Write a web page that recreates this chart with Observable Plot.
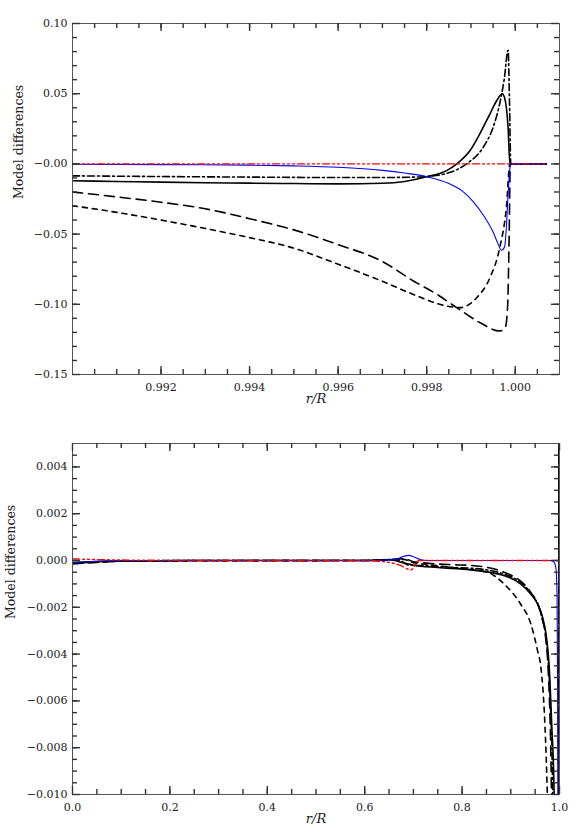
<!DOCTYPE html>
<html><head><meta charset="utf-8">
<script src="https://cdn.jsdelivr.net/npm/d3@7"></script>
<script src="https://cdn.jsdelivr.net/npm/@observablehq/plot@0.6"></script>
<style>
body{margin:0;background:#fff;}
#chart{width:581px;}
#chart svg{display:block;}
</style></head><body><div id="chart"></div>
<script>
// ---------- TOP PANEL DATA (r/R 0.990 – 1.001) ----------
const topXTicks = [0.992, 0.994, 0.996, 0.998, 1.000];
const topYTicks = [-0.15, -0.10, -0.05, 0.00, 0.05, 0.10];

const topRedR = [0.990, 1.0007];
const topRedV = [0, 0];

const topBlueR = [0.990, 0.992, 0.994, 0.995, 0.996, 0.997, 0.9975, 0.998, 0.9985, 0.9988, 0.99905, 0.9993, 0.9995, 0.9996, 0.99969, 0.99976, 0.9998, 0.99984, 0.99988, 0.9999, 1.0007];
const topBlueV = [-0.0003, -0.0005, -0.0009, -0.0014, -0.0024, -0.0046, -0.0065, -0.0091, -0.0140, -0.0192, -0.0268, -0.0375, -0.0485, -0.0560, -0.0615, -0.0590, -0.0450, -0.0210, -0.0030, 0, 0];

const topSolidR = [0.990, 0.991, 0.992, 0.993, 0.994, 0.995, 0.996, 0.997, 0.9975, 0.998, 0.99845, 0.99868, 0.99898, 0.9992, 0.99943, 0.99958, 0.99971, 0.99976, 0.9998, 0.99984, 0.99988, 1.0007];
const topSolidV = [-0.0120, -0.0125, -0.0130, -0.0134, -0.0137, -0.0140, -0.0142, -0.0138, -0.0125, -0.0092, -0.0048, 0, 0.0095, 0.0214, 0.0357, 0.0450, 0.0500, 0.0470, 0.0400, 0.0250, 0, 0];

const topDashDotR = [0.990, 0.992, 0.994, 0.996, 0.997, 0.9978, 0.998, 0.99853, 0.9989, 0.99928, 0.9995, 0.99965, 0.99975, 0.99984, 0.99987, 0.9999, 1.0007];
const topDashDotV = [-0.0085, -0.0090, -0.0094, -0.0097, -0.0097, -0.0093, -0.0090, -0.0060, 0, 0.0120, 0.0260, 0.0430, 0.0600, 0.0810, 0.0450, 0, 0];

const topLongR = [0.990, 0.991, 0.992, 0.993, 0.994, 0.995, 0.996, 0.997, 0.9977, 0.99823, 0.99868, 0.9992, 0.99965, 0.99978, 0.99983, 0.99986, 0.99989, 1.0007];
const topLongV = [-0.0200, -0.0235, -0.0273, -0.0320, -0.0390, -0.0470, -0.0575, -0.0695, -0.0834, -0.0929, -0.1024, -0.1130, -0.1190, -0.1160, -0.1000, -0.0570, 0, 0];

const topShortR = [0.990, 0.991, 0.992, 0.993, 0.994, 0.995, 0.996, 0.997, 0.9977, 0.99845, 0.99875, 0.99913, 0.99943, 0.99965, 0.9998, 0.99988, 1.0007];
const topShortV = [-0.0298, -0.0345, -0.0400, -0.0460, -0.0525, -0.0600, -0.0715, -0.0836, -0.0930, -0.1012, -0.1024, -0.0953, -0.0810, -0.0596, -0.0310, 0, 0];

// ---------- BOTTOM PANEL DATA (r/R 0 – 1) ----------
const botXTicks = [0.0, 0.2, 0.4, 0.6, 0.8, 1.0];
const botYTicks = [-0.010, -0.008, -0.006, -0.004, -0.002, 0.000, 0.002, 0.004];

const botRedR = [0.00, 0.10, 0.30, 0.60, 0.647, 0.672, 0.695, 0.711, 0.80, 0.99, 1.00];
const botRedV = [0.00007, 0.00002, 0, 0, -0.00007, -0.0002, -0.0004, 0, 0, 0, 0];

const botBlueR = [0.00, 0.05, 0.10, 0.60, 0.66, 0.68, 0.691, 0.70, 0.715, 0.73, 0.98, 0.988, 0.9925, 0.995, 0.996, 0.9968];
const botBlueV = [-0.00008, -0.00003, 0, 0, 0.00003, 0.00018, 0.00022, 0.00016, 0.00003, 0, 0, -0.00005, -0.0003, -0.0015, -0.005, -0.012];

const botSolidR = [0.00, 0.05, 0.10, 0.30, 0.60, 0.65, 0.68, 0.70, 0.75, 0.818, 0.886, 0.920, 0.941, 0.955, 0.965, 0.974, 0.979, 0.984, 0.989, 0.9975, 0.9990, 0.9996, 1.0];
const botSolidV = [-0.00010, -0.00005, -0.00002, 0, 0, 0.00003, -0.0001, -0.0002, -0.0003, -0.0004, -0.00064, -0.0010, -0.00143, -0.00186, -0.0024, -0.0034, -0.0046, -0.0070, -0.0100, -0.05, -0.1, 0.05, 0];

const botDashDotR = [0.00, 0.05, 0.10, 0.30, 0.60, 0.65, 0.67, 0.69, 0.72, 0.78, 0.818, 0.886, 0.941, 0.962, 0.974, 0.980, 0.986, 0.9975, 0.9990, 0.9996, 1.0];
const botDashDotV = [-0.00012, -0.00006, -0.00002, 0, 0, 0.00004, 0.00002, -0.0002, -0.00022, -0.0003, -0.00033, -0.00058, -0.0014, -0.0023, -0.0036, -0.0055, -0.0100, -0.05, -0.1, 0.05, 0];

const botLongR = [0.00, 0.05, 0.10, 0.30, 0.60, 0.65, 0.68, 0.70, 0.72, 0.78, 0.818, 0.886, 0.941, 0.962, 0.972, 0.9766, 0.9836, 0.9975, 0.9990, 0.9996, 1.0];
const botLongV = [-0.00015, -0.00008, -0.00003, 0, 0, 0.00004, 0.00008, -0.00005, -0.0001, -0.00018, -0.00021, -0.0005, -0.00136, -0.0023, -0.0034, -0.0046, -0.0100, -0.05, -0.1, 0.05, 0];

const botShortR = [0.00, 0.05, 0.10, 0.30, 0.60, 0.65, 0.68, 0.70, 0.72, 0.78, 0.82, 0.852, 0.886, 0.920, 0.941, 0.955, 0.962, 0.970, 0.975, 0.9975, 0.9990, 0.9996, 1.0];
const botShortV = [-0.00012, -0.00006, -0.00003, -0.00001, 0, 0.00002, 0.00005, -0.0001, -0.00015, -0.0003, -0.0004, -0.0005, -0.0010, -0.00186, -0.0027, -0.00386, -0.0046, -0.0070, -0.0100, -0.05, -0.1, 0.05, 0];

const yLabelText = "Model differences";
const xLabelText = "r/R";

// ---------- layout & styles ----------
const W = 581, H = 420, ML = 72, MR = 22, MT = 23, MB = 46;
const FW = W - ML - MR, FH = H - MT - MB;
const STYLE = {
  solid:   {stroke: "#000", strokeWidth: 1.6, strokeDasharray: null},
  dashdot: {stroke: "#000", strokeWidth: 1.6, strokeDasharray: "7,3,2,3"},
  long:    {stroke: "#000", strokeWidth: 1.6, strokeDasharray: "10,6"},
  short:   {stroke: "#000", strokeWidth: 1.6, strokeDasharray: "5,5"},
  blue:    {stroke: "#0000ff", strokeWidth: 1.1, strokeDasharray: null},
  red:     {stroke: "#ff0000", strokeWidth: 1.4, strokeDasharray: "7,3,2,3,2,3,2,3"}
};
const TICK = {stroke: "#333", strokeWidth: 1.4};
const minus = s => s.replace("-", "\u2212");

// inward ticks drawn as short rules anchored on each frame side
function xTicks(values, len) {
  return [
    Plot.ruleX(values, {x: d => d, insetTop: FH - len, ...TICK}),
    Plot.ruleX(values, {x: d => d, insetBottom: FH - len, ...TICK})
  ];
}
function yTicks(values, len) {
  return [
    Plot.ruleY(values, {y: d => d, insetRight: FW - len, ...TICK}),
    Plot.ruleY(values, {y: d => d, insetLeft: FW - len, ...TICK})
  ];
}

function panel(cfg) {
  const marks = [];
  for (const [r, v, st] of cfg.series) {
    marks.push(Plot.line(d3.zip(r, v), {x: d => d[0], y: d => d[1], curve: "monotone-x", clip: true, ...st}));
  }
  marks.push(Plot.frame({stroke: "#555", strokeWidth: 1}));
  marks.push(...xTicks(cfg.xMinor, 5));
  marks.push(...xTicks(cfg.xMajor, 8));
  marks.push(...yTicks(cfg.yMinor, 5));
  marks.push(...yTicks(cfg.yMajor, 8));
  marks.push(Plot.axisX({anchor: "bottom", ticks: cfg.xMajor, tickSize: 0, tickPadding: 9, tickFormat: cfg.xFmt, label: null, fill: "#222"}));
  marks.push(Plot.axisY({anchor: "left", ticks: cfg.yMajor, tickSize: 0, tickPadding: 5, tickFormat: cfg.yFmt, label: null, fill: "#222"}));
  marks.push(Plot.text([yLabelText], {text: d => d, frameAnchor: "left", rotate: -90, dx: cfg.yLabelDx, fontSize: 12.5, fill: "#222"}));
  marks.push(Plot.text([xLabelText], {text: d => d, frameAnchor: "bottom", dy: 28, fontSize: 13, fontStyle: "italic", fill: "#222"}));
  return Plot.plot({
    width: W, height: H,
    marginTop: MT, marginBottom: MB, marginLeft: ML, marginRight: MR,
    style: {fontFamily: "DejaVu Serif", fontSize: "11px", background: "#fff", color: "#222"},
    x: {domain: cfg.xDomain},
    y: {domain: cfg.yDomain},
    marks
  });
}

const topPlot = panel({
  xDomain: [0.990, 1.001], yDomain: [-0.15, 0.10],
  xMajor: topXTicks, xMinor: d3.range(1, 22).map(i => 0.990 + i * 0.0005),
  yMajor: topYTicks, yMinor: d3.range(-14, 10).map(i => i * 0.01),
  xFmt: d => d.toFixed(3),
  yFmt: d => (d <= 0 ? "\u2212" : "") + Math.abs(d).toFixed(2),
  yLabelDx: -54,
  series: [
    [topShortR, topShortV, STYLE.short],
    [topLongR, topLongV, STYLE.long],
    [topSolidR, topSolidV, STYLE.solid],
    [topDashDotR, topDashDotV, STYLE.dashdot],
    [topBlueR, topBlueV, STYLE.blue],
    [topRedR, topRedV, STYLE.red]
  ]
});

const botPlot = panel({
  xDomain: [0, 1], yDomain: [-0.010, 0.005],
  xMajor: botXTicks, xMinor: d3.range(1, 20).map(i => i * 0.05),
  yMajor: botYTicks, yMinor: d3.range(-19, 10).map(i => i * 0.0005),
  xFmt: d => d.toFixed(1),
  yFmt: d => minus(d.toFixed(3)),
  yLabelDx: -62,
  series: [
    [botShortR, botShortV, STYLE.short],
    [botLongR, botLongV, STYLE.long],
    [botDashDotR, botDashDotV, STYLE.dashdot],
    [botSolidR, botSolidV, STYLE.solid],
    [botBlueR, botBlueV, STYLE.blue],
    [botRedR, botRedV, STYLE.red]
  ]
});

const root = document.getElementById("chart");
root.appendChild(topPlot);
root.appendChild(botPlot);
</script>
</body></html>
